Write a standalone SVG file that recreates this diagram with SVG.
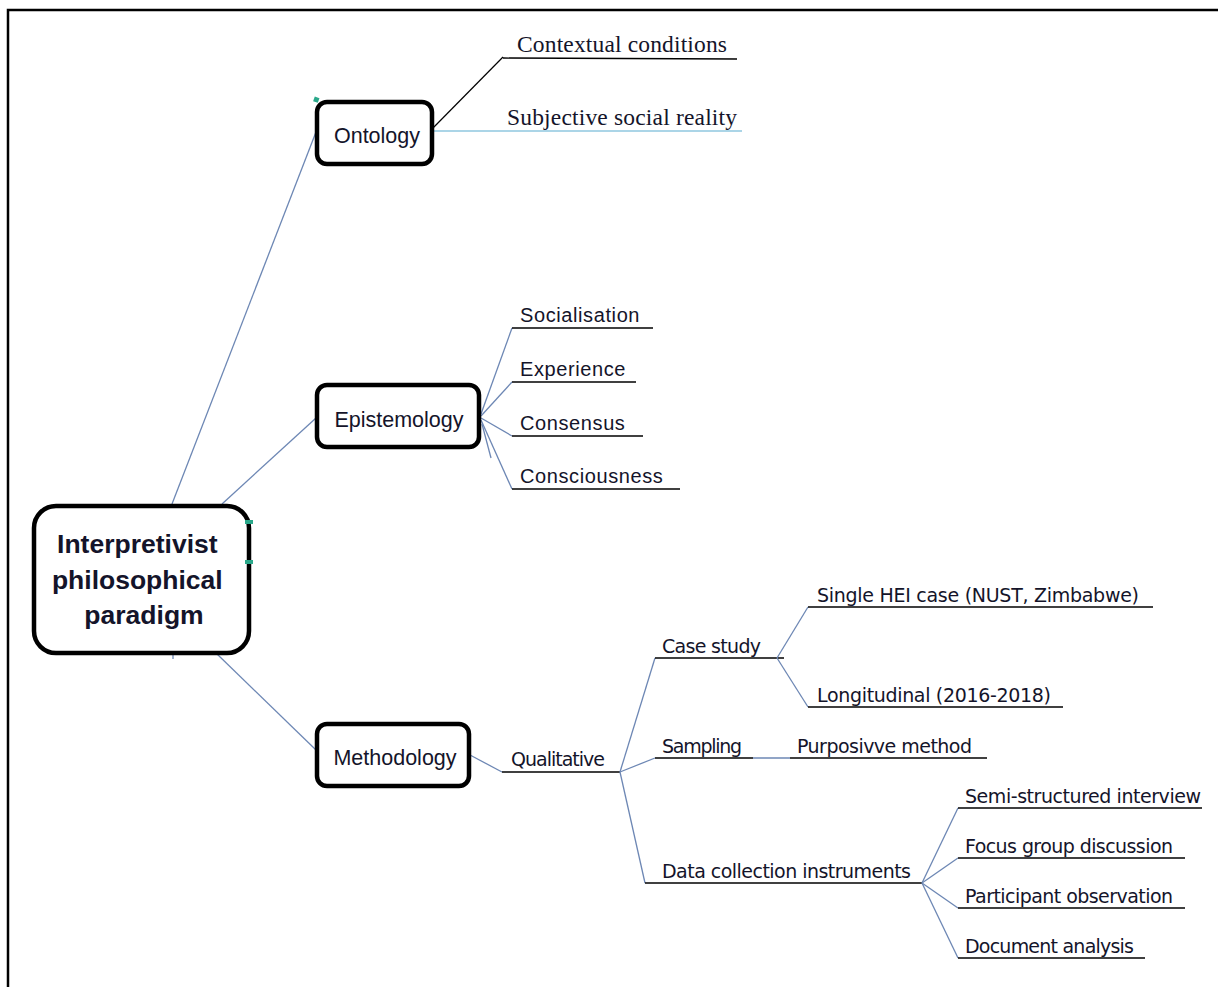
<svg xmlns="http://www.w3.org/2000/svg" width="1218" height="987" viewBox="0 0 1218 987">
  <style>
    .frame{fill:none;stroke:#000;stroke-width:2.5}
    .box{fill:#fff;stroke:#000;stroke-width:4.5}
    .link{fill:none;stroke:#6d87b4;stroke-width:1.3}
    .ul{fill:none;stroke:#000;stroke-width:1.3}
    .sans{font-family:"Liberation Sans",Arial,sans-serif;fill:#14142a}
    .serif{font-family:"Liberation Serif","Times New Roman",serif;fill:#14142a;font-size:23.5px}
    .tah{font-family:"DejaVu Sans","Liberation Sans",sans-serif;fill:#14142a;font-size:19px}
    .node{font-size:21.5px;text-anchor:middle}
    .ep{font-size:20px;letter-spacing:0.6px}
    .mark{fill:#2aa88a}
  </style>

  <rect width="1218" height="987" fill="#fff"/>
  <rect class="frame" x="8" y="10" width="1230" height="1000"/>

  <!-- connectors -->
  <g id="connectors">
    <!-- root to main branches -->
    <line class="link" x1="172" y1="504" x2="316" y2="132"/>
    <line class="link" x1="222" y1="504" x2="316" y2="418"/>
    <line class="link" x1="217" y1="654" x2="316" y2="750"/>
    <line class="link" x1="173" y1="654" x2="173" y2="659"/>

    <!-- ontology -->
    <polyline points="432,129 503,57" fill="none" stroke="#000" stroke-width="1.2"/>
    <line class="ul" x1="503" y1="58" x2="737" y2="59"/>
    <line x1="432" y1="131" x2="742" y2="131" stroke="#8fc7df" stroke-width="1.3"/>

    <!-- epistemology -->
    <line class="link" x1="481" y1="414" x2="512" y2="328"/>
    <line class="link" x1="481" y1="416" x2="512" y2="382"/>
    <line class="link" x1="481" y1="418" x2="512" y2="436"/>
    <line class="link" x1="481" y1="420" x2="512" y2="489"/>
    <line class="link" x1="482" y1="424" x2="491" y2="458" stroke-width="0.8"/>
    <line class="ul" x1="512" y1="328" x2="653" y2="328"/>
    <line class="ul" x1="512" y1="382" x2="636" y2="382"/>
    <line class="ul" x1="512" y1="436" x2="643" y2="436"/>
    <line class="ul" x1="512" y1="489" x2="680" y2="489"/>

    <!-- methodology -->
    <line class="link" x1="470" y1="755" x2="502" y2="772"/>
    <line class="ul" x1="502" y1="772" x2="620" y2="772"/>
    <line class="link" x1="620" y1="772" x2="655" y2="658"/>
    <line class="link" x1="620" y1="772" x2="655" y2="758"/>
    <line class="link" x1="620" y1="772" x2="645" y2="883"/>
    <line class="ul" x1="655" y1="658" x2="784" y2="658"/>
    <line class="ul" x1="655" y1="758" x2="753" y2="758"/>
    <line class="link" x1="753" y1="758" x2="790" y2="758"/>
    <line class="ul" x1="790" y1="758" x2="987" y2="758"/>
    <line class="ul" x1="645" y1="883" x2="922" y2="883"/>

    <!-- case study -->
    <line class="link" x1="777" y1="658" x2="808" y2="607"/>
    <line class="link" x1="777" y1="658" x2="808" y2="707"/>
    <line class="ul" x1="808" y1="607" x2="1153" y2="607"/>
    <line class="ul" x1="808" y1="707" x2="1063" y2="707"/>

    <!-- data collection instruments -->
    <line class="link" x1="922" y1="883" x2="958" y2="808"/>
    <line class="link" x1="922" y1="883" x2="958" y2="858"/>
    <line class="link" x1="922" y1="883" x2="958" y2="908"/>
    <line class="link" x1="922" y1="883" x2="958" y2="958"/>
    <line class="ul" x1="958" y1="808" x2="1202" y2="808"/>
    <line class="ul" x1="958" y1="858" x2="1185" y2="858"/>
    <line class="ul" x1="958" y1="908" x2="1185" y2="908"/>
    <line class="ul" x1="958" y1="958" x2="1145" y2="958"/>
  </g>

  <!-- root -->
  <g id="root">
    <rect class="box" x="34" y="506" width="215" height="147" rx="22"/>
    <rect class="mark" x="245" y="520" width="8" height="4"/>
    <rect class="mark" x="245" y="560" width="8" height="4"/>
    <text class="sans" font-size="26.5" font-weight="bold" text-anchor="middle">
      <tspan x="141" y="553">Interpretivist</tspan>
      <tspan x="141" y="589">philosophical</tspan>
      <tspan x="144" y="624">paradigm</tspan>
    </text>
  </g>

  <!-- main branches -->
  <g id="ontology">
    <rect class="box" x="317" y="102" width="115" height="62" rx="10"/>
    <rect class="mark" x="314" y="97" width="5" height="5" transform="rotate(20 316 99)"/>
    <text class="sans node" x="377" y="143">Ontology</text>
  </g>
  <g id="epistemology">
    <rect class="box" x="317" y="385" width="162" height="62" rx="10"/>
    <text class="sans node" x="399" y="427">Epistemology</text>
  </g>
  <g id="methodology">
    <rect class="box" x="317" y="724" width="152" height="62" rx="10"/>
    <text class="sans node" x="395" y="765">Methodology</text>
  </g>

  <!-- ontology leaves -->
  <g id="contextual-conditions"><text class="serif" x="517" y="52" textLength="210">Contextual conditions</text></g>
  <g id="subjective-social-reality"><text class="serif" x="507" y="125" textLength="230">Subjective social reality</text></g>

  <!-- epistemology leaves -->
  <g id="socialisation"><text class="sans ep" x="520" y="322">Socialisation</text></g>
  <g id="experience"><text class="sans ep" x="520" y="376">Experience</text></g>
  <g id="consensus"><text class="sans ep" x="520" y="430">Consensus</text></g>
  <g id="consciousness"><text class="sans ep" x="520" y="483">Consciousness</text></g>

  <!-- methodology subtree -->
  <g id="qualitative"><text class="tah" x="511" y="766" textLength="94">Qualitative</text></g>
  <g id="case-study"><text class="tah" x="662" y="653" textLength="99">Case study</text></g>
  <g id="sampling"><text class="tah" x="662" y="753" textLength="80">Sampling</text></g>
  <g id="purposive-method"><text class="tah" x="797" y="753" textLength="175">Purposivve method</text></g>
  <g id="data-collection"><text class="tah" x="662" y="878" textLength="249">Data collection instruments</text></g>
  <g id="single-hei"><text class="tah" x="817" y="602" textLength="322">Single HEI case (NUST, Zimbabwe)</text></g>
  <g id="longitudinal"><text class="tah" x="817" y="702" textLength="234">Longitudinal (2016-2018)</text></g>
  <g id="semi-structured"><text class="tah" x="965" y="803" textLength="236">Semi-structured interview</text></g>
  <g id="focus-group"><text class="tah" x="965" y="853" textLength="208">Focus group discussion</text></g>
  <g id="participant-observation"><text class="tah" x="965" y="903" textLength="208">Participant observation</text></g>
  <g id="document-analysis"><text class="tah" x="965" y="953" textLength="169">Document analysis</text></g>
</svg>
